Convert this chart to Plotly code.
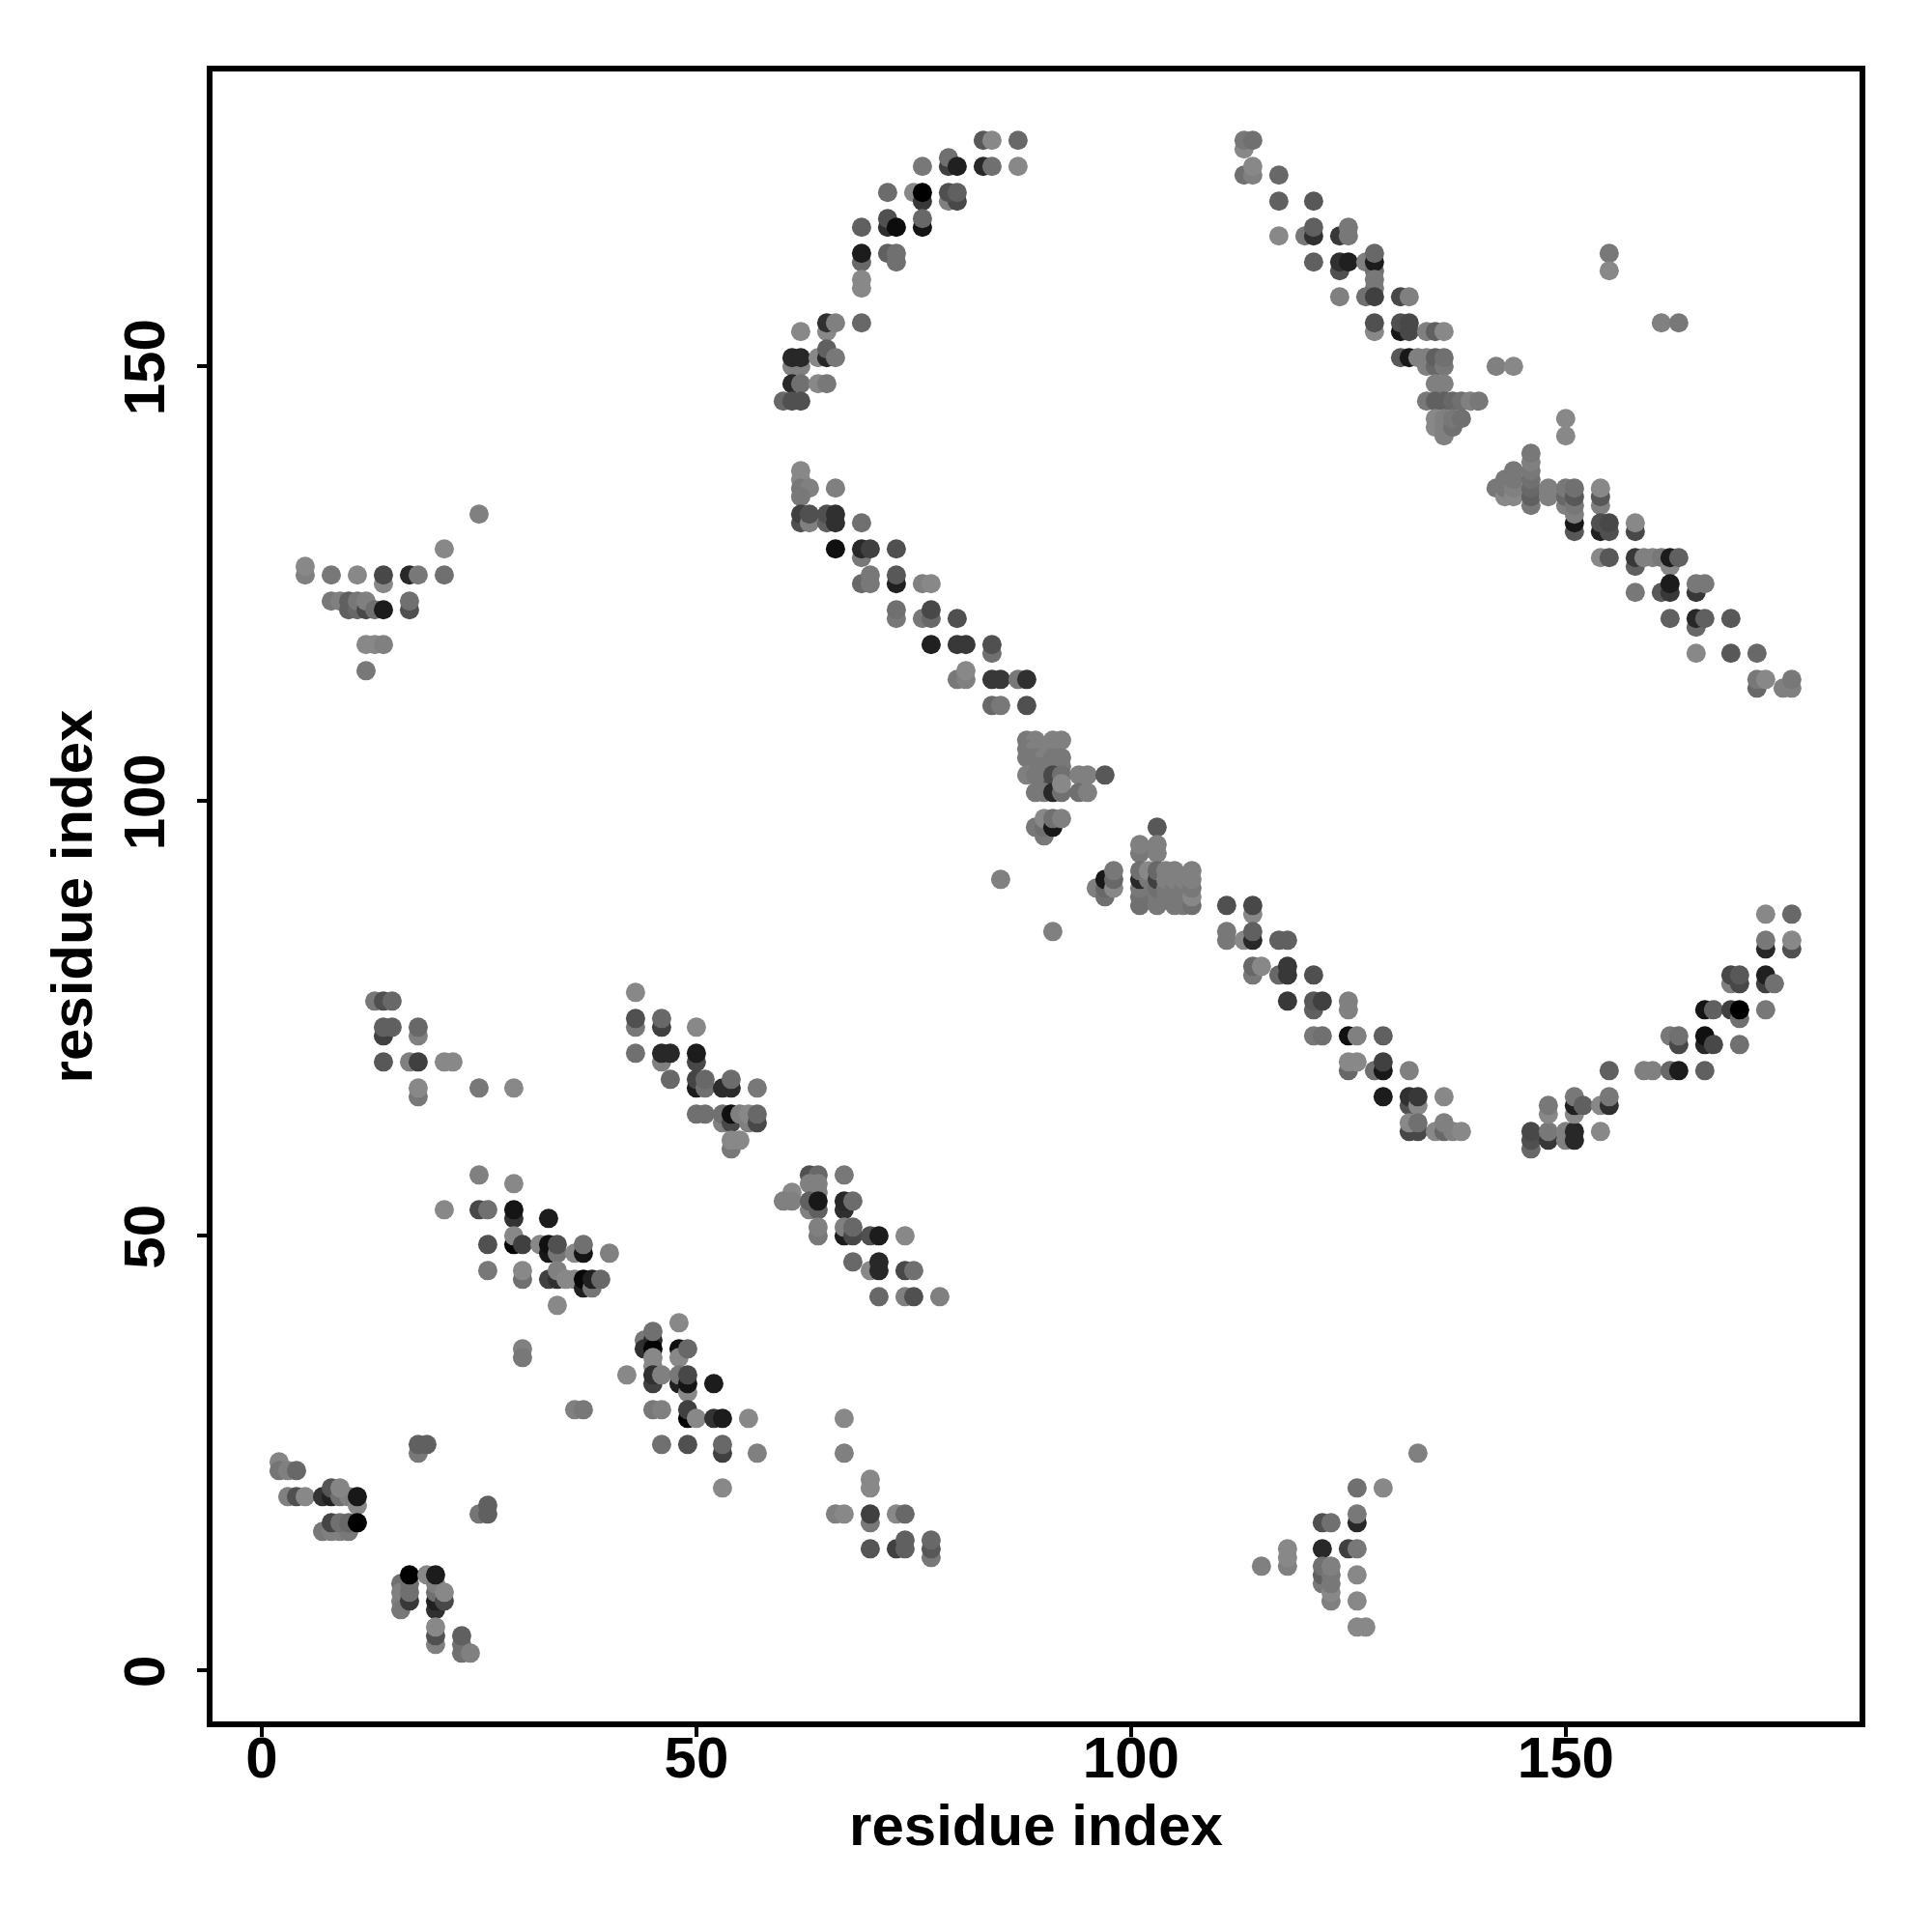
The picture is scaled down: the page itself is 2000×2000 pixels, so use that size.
import plotly.graph_objects as go

# (residue i, residue j, shade 0=black .. 255=white)
low_left = [
(2,24,0x85),(2,23,0x75),(3,23,0x80),(4,23,0x68),(3,20,0x80),(4,20,0x50),(5,20,0x88),(7,20,0x33),(8,20,0x22),
(8,21,0x55),(9,20,0x70),(10,20,0x80),(9,21,0x85),(11,19,0x88),(11,20,0x18),(7,16,0x78),(8,16,0x80),(9,16,0x80),(10,16,0x78),
(8,17,0x45),(9,17,0x70),(10,17,0x68),(11,17,0x00),(18,25,0x78),(18,26,0x60),(19,26,0x60),(25,18,0x75),(26,18,0x60),(26,19,0x60),
(16,10,0x70),(16,9,0x80),(16,8,0x80),(16,7,0x78),(17,8,0x38),(17,9,0x70),(17,10,0x70),(17,11,0x00),(19,11,0x88),
(20,7,0x30),(20,8,0x20),(20,9,0x70),(20,10,0x80),(20,11,0x1c),(21,8,0x48),(21,9,0x88),
(20,3,0x80),(20,4,0x50),(20,5,0x88),(23,2,0x70),(23,3,0x70),(23,4,0x60),(24,2,0x80),
]
block_30_40 = [
(25,57,0x80),(29,56,0x88),(21,53,0x88),(25,53,0x48),(26,53,0x70),(29,52,0x33),(29,53,0x15),(33,52,0x1c),
(26,49,0x50),(29,49,0x05),(29,50,0x88),(30,49,0x40),(32,49,0x88),(33,48,0x18),(33,49,0x10),(34,48,0x75),(34,49,0x50),
(36,48,0x88),(37,48,0x15),(37,49,0x70),(40,48,0x80),(26,46,0x78),(30,45,0x70),(30,46,0x88),(33,45,0x40),(34,45,0x30),(34,46,0x80),
(35,45,0x88),(36,45,0x88),(37,44,0x20),(37,45,0x08),(38,44,0x75),(38,45,0x20),(39,45,0x68),(34,42,0x88),
(30,37,0x80),(30,36,0x78),(36,30,0x80),(37,30,0x78),
]
block_40_56 = [
(48,40,0x88),(44,38,0x78),(44,37,0x30),(45,38,0x28),(45,37,0x05),(45,39,0x70),(48,37,0x10),(48,36,0x88),(49,37,0x68),
(45,36,0x88),(45,35,0x88),(42,34,0x88),(45,33,0x40),(45,34,0x30),(46,34,0x80),(48,33,0x20),(48,34,0x78),(49,32,0x88),(49,33,0x15),(49,34,0x48),(52,33,0x1c),
(45,30,0x78),(46,30,0x80),(49,29,0x00),(49,30,0x40),(50,29,0x88),(52,29,0x33),(53,29,0x1c),(56,29,0x88),
(46,26,0x70),(49,26,0x50),(53,25,0x40),(53,26,0x68),(57,25,0x80),(53,21,0x88),
]
block_67_78 = [
(67,29,0x88),(67,25,0x80),(70,22,0x88),(70,21,0x88),(66,18,0x80),(67,18,0x88),(70,17,0x78),(70,18,0x40),(73,18,0x88),(74,18,0x68),
(70,14,0x55),(73,14,0x40),(74,14,0x60),(74,15,0x60),(77,13,0x78),(77,14,0x58),(77,15,0x68),
]
block_60_78 = [
(63,57,0x50),(64,57,0x68),(67,57,0x78),(63,56,0x80),(64,56,0x80),(64,55,0x80),(61,55,0x88),(60,54,0x80),(61,54,0x80),
(63,53,0x80),(63,54,0x60),(64,53,0x60),(64,54,0x18),(67,53,0x30),(67,54,0x28),(68,54,0x6c),
(64,50,0x78),(64,51,0x80),(67,50,0x1c),(67,51,0x80),(68,50,0x48),(68,51,0x68),(70,50,0x50),(71,50,0x1c),(74,50,0x88),
(68,47,0x68),(70,46,0x88),(71,46,0x28),(71,47,0x28),(74,46,0x48),(75,46,0x70),
(71,43,0x68),(74,43,0x80),(75,43,0x50),(78,43,0x80),
]
block_13_29 = [
(13,77,0x78),(14,77,0x50),(15,77,0x68),(14,73,0x40),(14,74,0x60),(15,74,0x60),(18,73,0x80),(18,74,0x68),
(14,70,0x58),(17,70,0x80),(18,70,0x40),(21,70,0x88),(22,70,0x88),(18,66,0x78),(18,67,0x88),(25,67,0x78),(29,67,0x88),
]
block_43_57 = [
(43,78,0x88),(43,74,0x78),(43,75,0x50),(46,74,0x40),(46,75,0x68),(50,74,0x88),(43,71,0x70),(46,70,0x80),(46,71,0x28),(47,71,0x28),
(50,70,0x48),(50,71,0x1c),(47,68,0x68),(50,67,0x1c),(50,68,0x45),(51,67,0x70),(51,68,0x68),(53,67,0x2c),(54,67,0x2c),(54,68,0x6c),(57,67,0x78),
(50,64,0x70),(51,64,0x70),(53,63,0x80),(53,64,0x70),(54,63,0x48),(54,64,0x10),(55,64,0x80),(56,63,0x80),(56,64,0x88),(57,63,0x48),(57,64,0x68),
(54,60,0x78),(54,61,0x88),(55,61,0x88),
]
block_88_97 = [
(88,107,0x78),(89,107,0x80),(91,107,0x80),(92,107,0x80),(88,106,0x78),(89,106,0x80),(90,106,0x80),(91,106,0x80),
(88,105,0x78),(89,105,0x78),(90,105,0x80),(91,105,0x78),(92,105,0x78),(89,104,0x78),(90,104,0x78),(91,104,0x78),(92,104,0x78),
(88,103,0x80),(89,103,0x78),(90,103,0x78),(91,102,0x50),(91,103,0x48),(92,103,0x70),(94,103,0x80),(95,103,0x80),(97,103,0x58),
(89,101,0x78),(90,101,0x78),(91,101,0x28),(92,101,0x70),(92,102,0x88),(94,101,0x70),(95,101,0x80),
(89,97,0x78),(90,96,0x78),(90,97,0x70),(90,98,0x88),(91,97,0x18),(91,98,0x70),(92,98,0x80),(85,91,0x80),(91,85,0x80),
]
block_96_107 = [
(103,97,0x58),(101,94,0x78),(101,95,0x80),(103,94,0x80),(103,95,0x80),(96,90,0x80),(97,89,0x70),(97,90,0x68),(97,91,0x18),
(98,90,0x88),(98,91,0x68),(98,92,0x78),(101,88,0x70),(101,89,0x70),(101,90,0x78),(101,91,0x28),(101,92,0x70),(102,91,0x78),(102,92,0x88),
(103,88,0x78),(103,89,0x78),(103,90,0x70),(103,91,0x40),(103,92,0x68),(104,89,0x78),(104,90,0x78),(104,91,0x80),(104,92,0x80),
(105,88,0x78),(105,89,0x78),(105,90,0x78),(105,91,0x80),(105,92,0x80),(106,88,0x78),(106,89,0x78),(106,90,0x78),(106,91,0x80),
(107,88,0x70),(107,89,0x88),(107,90,0x78),(107,91,0x80),(107,92,0x80),
]
band_111_138 = [
(111,88,0x50),(114,87,0x88),(114,88,0x48),(111,84,0x78),(111,85,0x78),(113,84,0x88),(114,84,0x28),(114,85,0x60),(117,84,0x60),(118,84,0x60),
(114,80,0x78),(114,81,0x68),(115,81,0x88),(117,80,0x68),(118,80,0x38),(118,81,0x38),(121,80,0x50),
(118,77,0x38),(121,76,0x60),(121,77,0x58),(122,77,0x40),(125,76,0x80),(125,77,0x80),
(121,73,0x78),(122,73,0x70),(125,73,0x10),(126,73,0x80),(129,73,0x60),
(125,69,0x68),(125,70,0x88),(126,70,0x88),(128,69,0x70),(129,69,0x18),(129,70,0x40),(132,69,0x80),
(129,66,0x1c),(132,65,0x50),(132,66,0x30),(133,65,0x88),(133,66,0x38),(136,66,0x88),
(132,62,0x48),(133,62,0x48),(132,63,0x88),(133,63,0x70),(135,62,0x88),(136,62,0x68),(136,63,0x80),(137,62,0x80),(138,62,0x88),
]
band_146_176 = [
(146,60,0x68),(146,61,0x50),(146,62,0x48),(148,61,0x38),(148,62,0x78),(148,64,0x88),(148,65,0x78),(150,61,0x80),(150,62,0x80),(151,61,0x28),(151,62,0x28),
(151,64,0x88),(151,65,0x20),(151,66,0x78),(152,65,0x60),(154,65,0x88),(155,65,0x30),(155,66,0x78),(154,62,0x88),
(155,69,0x60),(159,69,0x80),(160,69,0x80),(162,69,0x68),(163,69,0x1c),(166,69,0x60),
(162,73,0x78),(163,72,0x48),(163,73,0x70),(166,72,0x28),(166,73,0x10),(167,72,0x48),(170,72,0x70),
(166,76,0x14),(167,76,0x60),(169,76,0x40),(170,75,0x70),(170,76,0x00),(173,76,0x78),
(169,79,0x80),(169,80,0x48),(170,79,0x48),(170,80,0x58),(173,79,0x40),(173,80,0x20),(174,79,0x70),
(173,87,0x88),(176,87,0x68),(173,83,0x28),(173,84,0x78),(176,83,0x50),(176,84,0x88),
]
arc_60_87 = [
(83,176,0x58),(84,176,0x88),(87,176,0x68),(83,173,0x28),(84,173,0x70),(87,173,0x88),(76,173,0x78),(79,173,0x40),(79,174,0x70),(80,173,0x20),
(72,170,0x6c),(75,170,0x88),(76,169,0x38),(76,170,0x00),(79,169,0x80),(80,169,0x48),(79,170,0x50),(80,170,0x60),
(69,166,0x60),(72,166,0x30),(72,167,0x50),(73,166,0x0c),(76,166,0x14),(76,167,0x68),
(69,162,0x68),(69,163,0x1c),(72,163,0x60),(73,162,0x70),(73,163,0x70),(69,159,0x88),(69,160,0x88),
(69,155,0x68),(65,154,0x88),(65,155,0x30),(66,155,0x80),(62,154,0x88),
(61,150,0x80),(62,150,0x80),(61,151,0x28),(62,151,0x28),(64,151,0x88),(65,151,0x28),(65,152,0x60),(66,151,0x78),
(61,148,0x28),(62,148,0x70),(64,148,0x88),(65,148,0x78),(60,146,0x68),(61,146,0x50),(62,146,0x50),
]
arc_113_144 = [
(113,175,0x88),(113,176,0x78),(114,176,0x70),(113,172,0x70),(114,172,0x80),(114,173,0x88),(117,172,0x68),(117,169,0x60),(121,169,0x58),
(117,165,0x88),(120,165,0x78),(121,165,0x30),(121,166,0x60),(124,165,0x38),(125,165,0x78),(125,166,0x78),
(121,162,0x60),(124,161,0x50),(124,162,0x30),(125,162,0x20),(127,162,0x80),(128,161,0x70),(128,162,0x1c),(128,163,0x68),
(128,160,0x78),(128,159,0x78),(124,158,0x80),(127,158,0x70),(128,158,0x40),(131,158,0x48),(132,158,0x80),
(128,154,0x88),(128,155,0x50),(131,154,0x18),(131,155,0x50),(132,154,0x48),(132,155,0x48),(134,154,0x80),(135,154,0x60),(136,154,0x88),
(131,151,0x58),(132,151,0x18),(133,151,0x80),(134,150,0x80),(134,151,0x80),(135,150,0x68),(135,151,0x60),(136,150,0x78),(136,151,0x70),
(135,148,0x80),(136,148,0x80),(134,146,0x78),(135,146,0x60),(136,146,0x60),(137,146,0x68),(138,146,0x70),(139,146,0x80),(140,146,0x78),
(135,143,0x88),(135,144,0x88),(136,142,0x80),(136,143,0x80),(136,144,0x80),(137,143,0x70),(137,144,0x78),(138,144,0x70),
(142,150,0x80),(144,150,0x88),(150,144,0x88),(150,142,0x88),
(155,163,0x78),(155,161,0x88),(161,155,0x80),(163,155,0x78),
]
band_142_176 = [
(142,136,0x78),(143,135,0x88),(143,136,0x78),(143,137,0x78),(144,135,0x88),(144,136,0x80),(144,137,0x78),(144,138,0x78),
(146,134,0x78),(146,135,0x60),(146,136,0x68),(146,137,0x70),(146,138,0x78),(146,139,0x80),(146,140,0x78),(148,135,0x80),(148,136,0x80),
(150,134,0x80),(150,135,0x68),(150,136,0x78),(151,131,0x58),(151,132,0x18),(151,133,0x80),(151,134,0x78),(151,135,0x58),(151,136,0x70),
(154,134,0x80),(154,135,0x58),(154,136,0x88),(154,131,0x20),(154,132,0x50),(155,131,0x50),(155,132,0x48),(158,131,0x48),(158,132,0x88),
(154,128,0x88),(155,128,0x58),(158,127,0x60),(158,128,0x38),(159,128,0x80),(160,128,0x80),(161,128,0x78),(162,127,0x88),(162,128,0x1c),(163,128,0x60),
(158,124,0x78),(161,124,0x58),(162,124,0x38),(162,125,0x1c),(165,124,0x38),(165,125,0x78),(166,125,0x78),
(162,121,0x60),(165,120,0x68),(165,121,0x28),(166,121,0x60),(169,121,0x58),(165,117,0x88),(169,117,0x58),(172,117,0x68),
(172,113,0x68),(172,114,0x78),(173,114,0x88),(175,113,0x80),(176,113,0x80),(176,114,0x78),
]
triangle_low = [
(133,25,0x80),(129,21,0x88),(126,21,0x70),(126,17,0x28),(126,18,0x78),(122,17,0x50),(123,17,0x70),(122,14,0x28),(125,14,0x40),(126,14,0x78),
(118,12,0x80),(118,13,0x88),(118,14,0x88),(115,12,0x80),(122,10,0x78),(122,11,0x60),(122,12,0x70),(123,8,0x80),(123,9,0x88),(123,10,0x78),(123,11,0x78),(123,12,0x80),
(126,11,0x88),(126,8,0x88),(126,5,0x88),(127,5,0x88),
]
triangle_high = [
(25,133,0x80),(21,129,0x88),(5,126,0x80),(5,127,0x88),(8,126,0x78),(11,126,0x88),(14,125,0x88),(14,126,0x48),(17,126,0x28),(18,126,0x78),(21,126,0x70),
(8,123,0x78),(9,123,0x80),(10,122,0x60),(10,123,0x60),(11,122,0x68),(11,123,0x78),(12,122,0x48),(12,123,0x80),(13,122,0x70),(14,122,0x1c),(17,122,0x50),(17,123,0x70),
(12,118,0x88),(13,118,0x88),(14,118,0x80),(12,115,0x78),
]
band_62_88 = [
(62,138,0x88),(62,137,0x88),(62,136,0x78),(63,136,0x80),(66,136,0x80),(62,135,0x78),(62,132,0x50),(62,133,0x40),(63,132,0x80),(63,133,0x50),
(65,132,0x60),(65,133,0x50),(66,132,0x30),(66,133,0x30),(69,132,0x70),(66,129,0x10),(69,128,0x78),(69,129,0x28),(70,129,0x40),(73,129,0x50),
(69,125,0x68),(70,125,0x78),(70,126,0x78),(73,125,0x20),(73,126,0x58),(76,125,0x80),(77,125,0x88),
(73,121,0x78),(73,122,0x70),(76,121,0x78),(77,121,0x68),(77,122,0x48),(80,121,0x50),
(77,118,0x20),(80,118,0x38),(81,118,0x38),(84,117,0x70),(84,118,0x50),
(80,114,0x78),(81,114,0x80),(81,115,0x88),(84,114,0x38),(85,114,0x38),(87,114,0x78),(88,114,0x30),(84,111,0x68),(85,111,0x78),(88,111,0x50),
]

tick_values = [0, 50, 100, 150]
axis_title = "residue index"

regions = [low_left, block_30_40, block_40_56, block_67_78, block_60_78, block_13_29, block_43_57, block_88_97,
           block_96_107, band_111_138, band_146_176, arc_60_87, arc_113_144, band_142_176, triangle_low, triangle_high, band_62_88]
points = [p for r in regions for p in r]

fig = go.Figure(go.Scatter(
    x=[p[0] for p in points], y=[p[1] for p in points], mode="markers",
    marker=dict(size=20, color=[p[2] for p in points], cmin=0, cmax=255,
                colorscale=[[0, "rgb(0,0,0)"], [1, "rgb(255,255,255)"]], showscale=False, line=dict(width=0)),
    hoverinfo="skip"))

font = dict(family="Liberation Sans", size=60, color="black", weight="bold")
common = dict(tickmode="array", tickvals=tick_values, ticks="outside", ticklen=10, tickwidth=4, tickcolor="black",
              showline=True, linewidth=6, linecolor="black", mirror=True, showgrid=False, zeroline=False,
              tickfont=font)
fig.update_xaxes(range=[-5.66, 183.8], ticklabelstandoff=-30,
                 title=dict(text=axis_title, font=font, standoff=18), **common)
fig.update_yaxes(range=[-5.85, 183.92], tickangle=-90, ticklabelstandoff=10, ticklabelshift=10,
                 title=dict(text=axis_title, font=font, standoff=3), **common)
fig.update_layout(width=2000, height=2000, margin=dict(l=212, r=83, t=66, b=226, autoexpand=False),
                  paper_bgcolor="white", plot_bgcolor="white", showlegend=False,
                  font=dict(family="Liberation Sans"))
fig.write_html("out.html")
